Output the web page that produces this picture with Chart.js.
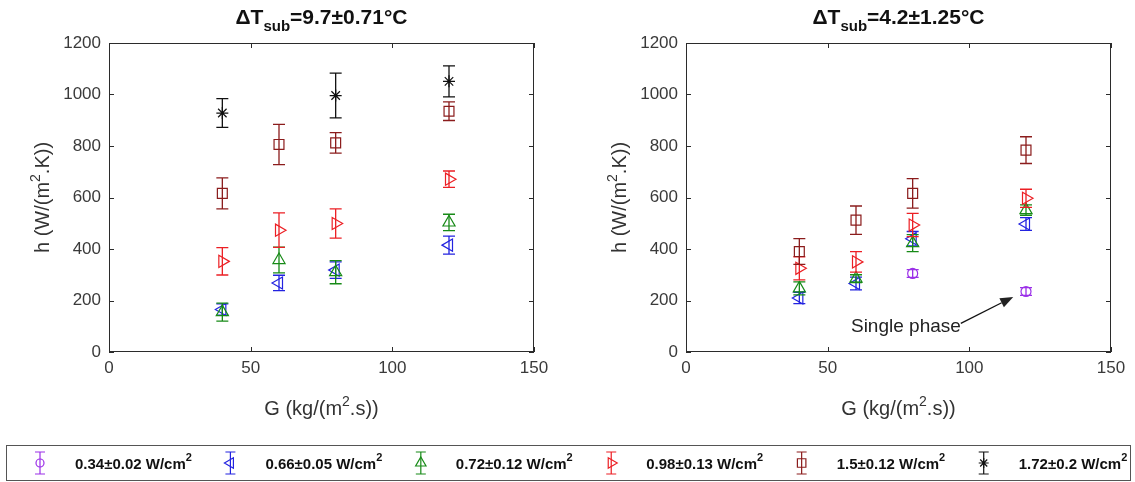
<!DOCTYPE html>
<html>
<head>
<meta charset="utf-8">
<script src="https://cdn.jsdelivr.net/npm/chart.js@4.4.1/dist/chart.umd.min.js"></script>
<style>
  body { margin: 0; background: #fff; width: 1135px; height: 482px; overflow: hidden; position: relative; }
  canvas { position: absolute; top: 0; }
  #leftChart { left: 0; }
  #rightChart { left: 567px; }
  #legend { left: 6px; top: 445px; }
</style>
</head>
<body>
<canvas id="leftChart" width="567" height="440"></canvas>
<canvas id="rightChart" width="568" height="440"></canvas>
<canvas id="legend" width="1125" height="36"></canvas>
<script>
// mass flux G, kg/(m2.s)
const G = [40, 60, 80, 120];
const G_STAR = [40, 80, 120];
const G_SINGLE = [80, 120];

// heat flux of each series, W/cm2
const fluxLabels = ['0.34±0.02', '0.66±0.05', '0.72±0.12', '0.98±0.13', '1.5±0.12', '1.72±0.2'];

const xTicks = [0, 50, 100, 150];
const yTicks = [0, 200, 400, 600, 800, 1000, 1200];

// dT_sub = 9.7 C : h and its error, W/(m2.K)
const left066 = [165, 268, 318, 415];
const left066Err = [22, 30, 32, 35];
const left072 = [155, 357, 310, 503];
const left072Err = [35, 50, 45, 32];
const left098 = [352, 473, 499, 671];
const left098Err = [53, 67, 57, 32];
const left150 = [616, 806, 812, 935];
const left150Err = [60, 78, 40, 36];
const left172 = [928, 996, 1051];
const left172Err = [56, 87, 60];

// dT_sub = 4.2 C
const right034 = [305, 235];
const right034Err = [15, 15];
const right066 = [210, 266, 440, 497];
const right066Err = [22, 25, 28, 25];
const right072 = [247, 285, 423, 551];
const right072Err = [25, 15, 33, 20];
const right098 = [325, 350, 493, 597];
const right098Err = [45, 40, 45, 35];
const right150 = [390, 512, 616, 784];
const right150Err = [50, 55, 57, 52];

// single phase note (data units)
const noteText = 'Single phase';
const noteTail = { x: 97, y: 111 };
const noteTip = { x: 115.5, y: 214 };

const FONT = '"Liberation Sans", Arial, Helvetica, sans-serif';

const seriesStyle = [
  { color: '#9b30e8', style: 'circle', rot: 0, r: 5 },
  { color: '#2323e0', style: 'triangle', rot: -90, r: 7 },
  { color: '#178a17', style: 'triangle', rot: 0, r: 7 },
  { color: '#ec1f24', style: 'triangle', rot: 90, r: 7 },
  { color: '#8b1c1c', style: 'rect', rot: 0, r: 7 },
  { color: '#111111', style: 'star', rot: 0, r: 6 }
];

function makeSet(i, xs, ys, errs) {
  const s = seriesStyle[i];
  return {
    label: fluxLabels[i],
    data: xs.map((x, k) => ({ x: x, y: ys[k], err: errs[k] })),
    order: 5 - i,
    pointStyle: s.style,
    pointRotation: s.rot,
    pointRadius: s.r,
    pointBorderWidth: 1.2,
    pointBorderColor: s.color,
    pointBackgroundColor: 'rgba(0,0,0,0)',
    borderColor: s.color
  };
}

// text made of pieces with their own font and vertical shift, centred on cx
function drawRich(ctx, segs, cx, base) {
  let w = 0;
  segs.forEach(s => { ctx.font = s.font; w += ctx.measureText(s.t).width; });
  let x = cx - w / 2;
  ctx.textAlign = 'left';
  ctx.textBaseline = 'alphabetic';
  segs.forEach(s => {
    ctx.font = s.font;
    ctx.fillText(s.t, x, base + (s.dy || 0));
    x += ctx.measureText(s.t).width;
  });
}

function unitSegs(pre, post, size) {
  return [
    { t: pre, font: size + 'px ' + FONT },
    { t: '2', font: Math.round(size * 0.7) + 'px ' + FONT, dy: -9 },
    { t: post, font: size + 'px ' + FONT }
  ];
}

const errorBars = {
  id: 'errorBars',
  afterDatasetDraw(chart, args) {
    const ds = chart.data.datasets[args.index];
    const y = chart.scales.y;
    const ctx = chart.ctx;
    ctx.save();
    ctx.strokeStyle = ds.borderColor;
    ctx.lineWidth = 1.3;
    args.meta.data.forEach((pt, k) => {
      const d = ds.data[k];
      const top = y.getPixelForValue(d.y + d.err);
      const bot = y.getPixelForValue(d.y - d.err);
      const cap = 6;
      ctx.beginPath();
      ctx.moveTo(pt.x, top); ctx.lineTo(pt.x, bot);
      ctx.moveTo(pt.x - cap, top); ctx.lineTo(pt.x + cap, top);
      ctx.moveTo(pt.x - cap, bot); ctx.lineTo(pt.x + cap, bot);
      ctx.stroke();
    });
    ctx.restore();
  }
};

// box round the plot with inward ticks on all four sides
const axesBox = {
  id: 'axesBox',
  beforeDatasetsDraw(chart) {
    const { ctx, chartArea: a, scales: { x, y } } = chart;
    const len = 5;
    ctx.save();
    ctx.strokeStyle = '#2b2b2b';
    ctx.lineWidth = 1;
    ctx.strokeRect(a.left + 0.5, a.top + 0.5, a.width - 1, a.height - 1);
    ctx.beginPath();
    x.ticks.forEach(t => {
      const px = Math.round(x.getPixelForValue(t.value)) + 0.5;
      ctx.moveTo(px, a.bottom); ctx.lineTo(px, a.bottom - len);
      ctx.moveTo(px, a.top); ctx.lineTo(px, a.top + len);
    });
    y.ticks.forEach(t => {
      const py = Math.round(y.getPixelForValue(t.value)) + 0.5;
      ctx.moveTo(a.left, py); ctx.lineTo(a.left + len, py);
      ctx.moveTo(a.right, py); ctx.lineTo(a.right - len, py);
    });
    ctx.stroke();
    ctx.restore();
  }
};

const panelText = {
  id: 'panelText',
  afterDraw(chart, args, opts) {
    const { ctx, chartArea: a } = chart;
    const cx = (a.left + a.right) / 2;
    ctx.save();
    ctx.fillStyle = '#111';
    drawRich(ctx, opts.title, cx, 24);
    ctx.fillStyle = '#333';
    drawRich(ctx, unitSegs('G (kg/(m', '.s))', 20), cx, a.bottom + 63);
    ctx.translate(a.left - 60, (a.top + a.bottom) / 2);
    ctx.rotate(-Math.PI / 2);
    drawRich(ctx, unitSegs('h (W/(m', '.K))', 20), 0, 0);
    ctx.restore();

    if (opts.note) {
      const x = chart.scales.x, y = chart.scales.y;
      const tx = x.getPixelForValue(noteTail.x), ty = y.getPixelForValue(noteTail.y);
      const hx = x.getPixelForValue(noteTip.x), hy = y.getPixelForValue(noteTip.y);
      ctx.save();
      ctx.fillStyle = '#222';
      ctx.strokeStyle = '#111';
      ctx.lineWidth = 1.3;
      ctx.font = '19px ' + FONT;
      ctx.textAlign = 'right';
      ctx.textBaseline = 'middle';
      ctx.fillText(noteText, tx, ty + 3);
      const ang = Math.atan2(hy - ty, hx - tx);
      const hl = 13, hw = 5;
      const bx = hx - Math.cos(ang) * hl, by = hy - Math.sin(ang) * hl;
      ctx.beginPath();
      ctx.moveTo(tx, ty); ctx.lineTo(bx, by);
      ctx.stroke();
      ctx.beginPath();
      ctx.moveTo(hx, hy);
      ctx.lineTo(bx - Math.sin(ang) * hw, by + Math.cos(ang) * hw);
      ctx.lineTo(bx + Math.sin(ang) * hw, by - Math.cos(ang) * hw);
      ctx.closePath();
      ctx.fill();
      ctx.restore();
    }
  }
};

function titleSegs(value) {
  return [
    { t: 'ΔT', font: 'bold 21px ' + FONT },
    { t: 'sub', font: 'bold 15px ' + FONT, dy: 7 },
    { t: '=' + value + '°C', font: 'bold 21px ' + FONT }
  ];
}

function makeChart(id, datasets, padLeft, padRight, title, note) {
  const tickFont = { family: FONT, size: 17 };
  return new Chart(document.getElementById(id), {
    type: 'scatter',
    data: { datasets: datasets },
    plugins: [axesBox, errorBars, panelText],
    options: {
      responsive: false,
      animation: false,
      events: [],
      layout: { padding: { left: padLeft, right: padRight, top: 43, bottom: 58 } },
      scales: {
        x: {
          type: 'linear', min: 0, max: 150,
          afterBuildTicks: s => { s.ticks = xTicks.map(v => ({ value: v })); },
          afterFit: s => { s.height = 30; },
          grid: { display: false, drawTicks: false },
          border: { display: false },
          ticks: { font: tickFont, color: '#3a3a3a', padding: 6, maxRotation: 0, callback: v => String(v) }
        },
        y: {
          type: 'linear', min: 0, max: 1200,
          afterBuildTicks: s => { s.ticks = yTicks.map(v => ({ value: v })); },
          afterFit: s => { s.width = 60; },
          grid: { display: false, drawTicks: false },
          border: { display: false },
          ticks: { font: tickFont, color: '#3a3a3a', padding: 8, callback: v => String(v) }
        }
      },
      plugins: {
        legend: { display: false },
        tooltip: { enabled: false },
        panelText: { title: title, note: note }
      }
    }
  });
}

makeChart('leftChart', [
  makeSet(1, G, left066, left066Err),
  makeSet(2, G, left072, left072Err),
  makeSet(3, G, left098, left098Err),
  makeSet(4, G, left150, left150Err),
  makeSet(5, G_STAR, left172, left172Err)
], 49, 33, titleSegs('9.7±0.71'), false);

makeChart('rightChart', [
  makeSet(0, G_SINGLE, right034, right034Err),
  makeSet(1, G, right066, right066Err),
  makeSet(2, G, right072, right072Err),
  makeSet(3, G, right098, right098Err),
  makeSet(4, G, right150, right150Err)
], 59, 24, titleSegs('4.2±1.25'), true);

// legend strip under both panels
(function drawLegend() {
  const cv = document.getElementById('legend');
  const ctx = cv.getContext('2d');
  ctx.strokeStyle = '#555';
  ctx.lineWidth = 1;
  ctx.strokeRect(0.5, 0.5, cv.width - 1, cv.height - 1);
  const cy = cv.height / 2;
  const big = 'bold 15px ' + FONT, small = 'bold 11px ' + FONT;
  let x = 34;
  fluxLabels.forEach((lab, i) => {
    const s = seriesStyle[i];
    ctx.strokeStyle = s.color;
    ctx.fillStyle = 'rgba(0,0,0,0)';
    ctx.lineWidth = 1.2;
    ctx.beginPath();
    ctx.moveTo(x, cy - 11); ctx.lineTo(x, cy + 11);
    ctx.moveTo(x - 5, cy - 11); ctx.lineTo(x + 5, cy - 11);
    ctx.moveTo(x - 5, cy + 11); ctx.lineTo(x + 5, cy + 11);
    ctx.stroke();
    Chart.helpers.drawPoint(ctx, { pointStyle: s.style, rotation: s.rot, radius: s.r - 1, borderWidth: 1.2 }, x, cy);
    ctx.fillStyle = '#111';
    ctx.textBaseline = 'middle';
    ctx.textAlign = 'left';
    let tx = x + 35;
    ctx.font = big;
    const main = lab + ' W/cm';
    ctx.fillText(main, tx, cy + 2);
    tx += ctx.measureText(main).width;
    ctx.font = small;
    ctx.fillText('2', tx, cy - 5);
    tx += ctx.measureText('2').width;
    x = tx + 38.5;
  });
})();
</script>
</body>
</html>
